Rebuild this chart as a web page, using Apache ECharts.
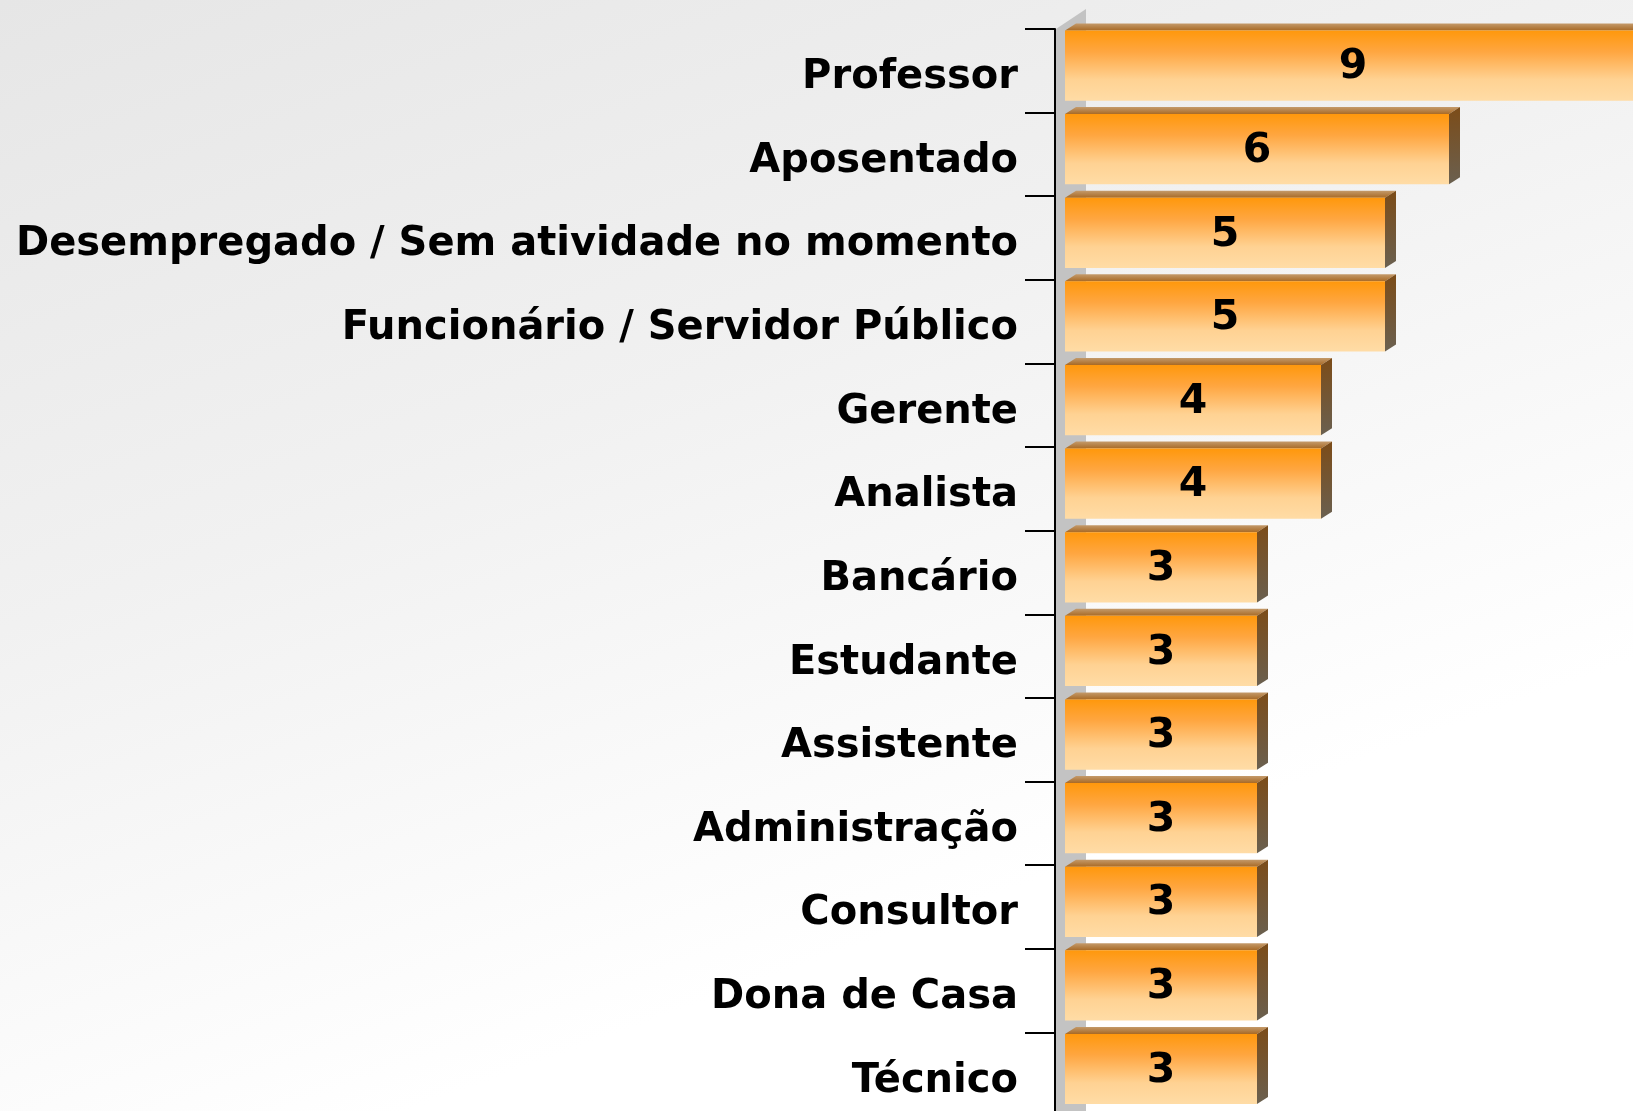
<!DOCTYPE html>
<html>
<head>
<meta charset="utf-8">
<script src="https://cdn.jsdelivr.net/npm/echarts@6/dist/echarts.min.js"></script>
<style>
html,body{margin:0;padding:0;width:1633px;height:1111px;overflow:hidden;}
#chart{width:1633px;height:1111px;}
</style>
</head>
<body>
<div id="chart"></div>
<script>
const categories = [
  "Professor",
  "Aposentado",
  "Desempregado / Sem atividade no momento",
  "Funcionário / Servidor Público",
  "Gerente",
  "Analista",
  "Bancário",
  "Estudante",
  "Assistente",
  "Administração",
  "Consultor",
  "Dona de Casa",
  "Técnico"
];
const values = [9, 6, 5, 5, 4, 4, 3, 3, 3, 3, 3, 3, 3];

const FONT = '"DejaVu Sans", Verdana, sans-serif';
const chart = echarts.init(document.getElementById('chart'), null, {renderer: 'canvas'});

function renderBar(params, api) {
  const v = api.value(0);
  const cat = api.value(1);
  const p0 = api.coord([0, cat]);
  const p1 = api.coord([v, cat]);
  const band = api.size([0, 1])[1];
  const top = p0[1] - band / 2 + 1.5;
  const h = band * 0.84;
  const dx = 11, dy = 7;
  const x0 = p0[0], x1 = p1[0];
  return {
    type: 'group',
    children: [
      {
        type: 'polygon',
        shape: {points: [[x0, top], [x1, top], [x1 + dx, top - dy], [x0 + dx, top - dy]]},
        style: {fill: new echarts.graphic.LinearGradient(0, 0, 0, 1, [
          {offset: 0, color: '#c49a6a'}, {offset: 1, color: '#a86a26'}])}
      },
      {
        type: 'polygon',
        shape: {points: [[x1, top], [x1 + dx, top - dy], [x1 + dx, top + h - dy], [x1, top + h]]},
        style: {fill: new echarts.graphic.LinearGradient(0, 0, 0, 1, [
          {offset: 0, color: '#7c4c18'}, {offset: 1, color: '#6a6050'}])}
      },
      {
        type: 'rect',
        shape: {x: x0, y: top, width: x1 - x0, height: h},
        style: {fill: new echarts.graphic.LinearGradient(0, 0, 0, 1, [
          {offset: 0, color: '#ff980c'},
          {offset: 0.3, color: '#ffa640'},
          {offset: 0.7, color: '#ffd293'},
          {offset: 1, color: '#ffdca6'}])}
      },
      {
        type: 'text',
        style: {
          text: String(v),
          x: (x0 + x1) / 2,
          y: top + h / 2 + 2,
          align: 'center',
          verticalAlign: 'middle',
          font: 'bold 41px ' + FONT,
          fill: '#000'
        }
      }
    ]
  };
}

function renderWall(params, api) {
  const cs = params.coordSys;
  const x = cs.x, y = cs.y, b = cs.y + cs.height + 20;
  return {
    type: 'polygon',
    shape: {points: [[x + 1, y], [x + 31, y - 20], [x + 31, b], [x + 1, b]]},
    style: {fill: '#c3c3c3'}
  };
}

chart.setOption({
  animation: false,
  backgroundColor: new echarts.graphic.LinearGradient(0, 0, 0.25, 1, [
    {offset: 0, color: '#e6e6e6'},
    {offset: 0.5, color: '#f1f1f1'},
    {offset: 1, color: '#ffffff'}
  ]),
  grid: {left: 1055, width: 650, top: 29, height: 1087, containLabel: false, outerBoundsMode: 'none'},
  xAxis: {type: 'value', min: -0.15625, max: 10, show: false},
  yAxis: {
    type: 'category',
    data: categories,
    inverse: true,
    z: 10,
    axisLine: {show: true, onZero: false, lineStyle: {color: '#000', width: 2}},
    axisTick: {show: true, length: 30, lineStyle: {color: '#000', width: 2}},
    axisLabel: {
      margin: 37,
      color: '#000',
      fontFamily: FONT,
      fontWeight: 'bold',
      fontSize: 40,
      verticalAlign: 'top',
      lineHeight: 14
    },
    splitLine: {show: false}
  },
  series: [
    {
      type: 'custom',
      z: 1,
      renderItem: renderWall,
      data: [[0, 0]],
      encode: {x: 0, y: 1},
      silent: true
    },
    {
      type: 'custom',
      z: 3,
      renderItem: renderBar,
      data: values.map((v, i) => [v, i]),
      encode: {x: 0, y: 1}
    }
  ]
});
</script>
</body>
</html>
